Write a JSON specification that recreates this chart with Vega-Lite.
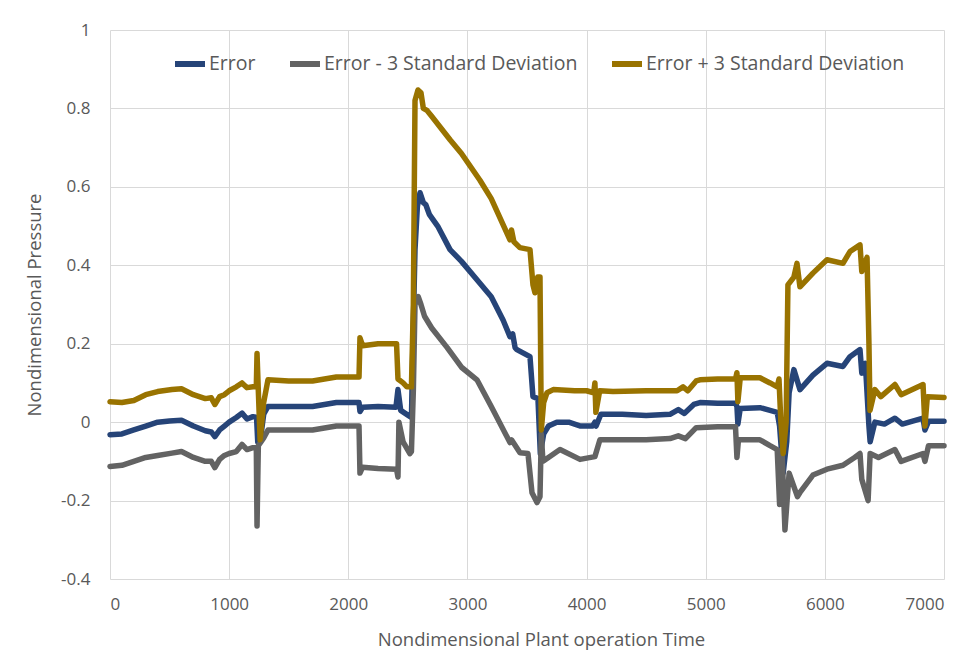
{
  "$schema": "https://vega.github.io/schema/vega-lite/v6.json",
  "width": 834,
  "height": 549,
  "autosize": {"type": "none"},
  "padding": {"left": 110, "top": 30, "right": 19, "bottom": 75},
  "background": "white",
  "config": {
    "font": "Open Sans",
    "view": {"stroke": null},
    "axis": {"labelFont": "Open Sans", "titleFont": "Open Sans", "labelColor": "#595959", "titleColor": "#595959", "labelFontSize": 17, "titleFontSize": 18.5, "titleFontWeight": "normal", "gridColor": "#d9d9d9", "gridWidth": 1, "domain": false, "ticks": false}
  },
  "datasets": {
    "err": [[0,-0.032],[100,-0.03],[200,-0.02],[300,-0.01],[400,0],[500,0.003],[600,0.005],[700,-0.01],[800,-0.022],[850,-0.025],[880,-0.037],[920,-0.02],[960,-0.01],[1000,0.0],[1060,0.012],[1108,0.023],[1150,0.008],[1200,0.014],[1230,0.012],[1240,-0.05],[1260,-0.05],[1290,0.02],[1326,0.04],[1500,0.04],[1700,0.04],[1800,0.045],[1900,0.05],[2090,0.05],[2098,0.027],[2120,0.038],[2250,0.04],[2400,0.038],[2417,0.083],[2440,0.03],[2500,0.018],[2530,0.012],[2546,0.25],[2560,0.44],[2580,0.55],[2602,0.585],[2630,0.56],[2650,0.555],[2680,0.53],[2750,0.5],[2854,0.44],[2950,0.41],[3080,0.363],[3200,0.32],[3300,0.26],[3357,0.218],[3380,0.225],[3400,0.19],[3415,0.185],[3525,0.167],[3550,0.065],[3592,0.06],[3612,-0.08],[3640,-0.03],[3680,-0.01],[3750,0.0],[3850,0.0],[3950,-0.01],[4050,-0.01],[4070,0.0],[4080,-0.01],[4120,0.02],[4300,0.02],[4500,0.017],[4700,0.02],[4770,0.032],[4820,0.022],[4900,0.045],[4952,0.05],[5100,0.048],[5250,0.048],[5262,0.04],[5270,-0.005],[5290,0.035],[5455,0.037],[5540,0.03],[5600,0.025],[5620,-0.01],[5650,-0.13],[5680,-0.05],[5700,0.075],[5740,0.134],[5791,0.083],[5900,0.12],[6018,0.15],[6152,0.142],[6211,0.167],[6295,0.185],[6310,0.125],[6340,0.15],[6370,-0.01],[6380,-0.05],[6420,0.0],[6500,-0.005],[6588,0.01],[6650,-0.005],[6824,0.01],[6840,-0.02],[6870,0.002],[7000,0.002]],
    "lo": [[0,-0.113],[100,-0.11],[200,-0.1],[300,-0.09],[400,-0.085],[520,-0.079],[600,-0.075],[700,-0.09],[800,-0.1],[850,-0.1],[880,-0.116],[920,-0.095],[960,-0.085],[1000,-0.08],[1060,-0.075],[1108,-0.057],[1150,-0.07],[1200,-0.065],[1228,-0.065],[1234,-0.265],[1245,-0.06],[1290,-0.04],[1326,-0.02],[1500,-0.02],[1700,-0.02],[1800,-0.015],[1900,-0.01],[2090,-0.01],[2098,-0.13],[2120,-0.115],[2250,-0.118],[2405,-0.12],[2417,-0.14],[2425,0.0],[2460,-0.05],[2517,-0.08],[2530,-0.075],[2546,0.08],[2560,0.3],[2587,0.32],[2610,0.3],[2640,0.27],[2700,0.24],[2830,0.19],[2950,0.14],[3080,0.108],[3200,0.04],[3357,-0.052],[3370,-0.045],[3441,-0.078],[3508,-0.08],[3542,-0.18],[3584,-0.205],[3609,-0.19],[3620,-0.03],[3634,-0.1],[3680,-0.09],[3777,-0.07],[3945,-0.095],[4070,-0.088],[4112,-0.045],[4300,-0.045],[4500,-0.045],[4700,-0.042],[4770,-0.035],[4830,-0.042],[4920,-0.014],[5100,-0.012],[5250,-0.012],[5262,-0.09],[5275,-0.045],[5455,-0.045],[5540,-0.06],[5600,-0.07],[5620,-0.21],[5640,-0.07],[5665,-0.275],[5700,-0.13],[5770,-0.19],[5790,-0.18],[5900,-0.135],[6018,-0.12],[6152,-0.11],[6250,-0.09],[6295,-0.08],[6310,-0.146],[6363,-0.2],[6380,-0.08],[6450,-0.09],[6588,-0.07],[6640,-0.1],[6824,-0.08],[6840,-0.1],[6870,-0.06],[7000,-0.06]],
    "hi": [[0,0.052],[100,0.05],[200,0.055],[300,0.07],[400,0.078],[520,0.083],[600,0.085],[700,0.07],[800,0.06],[850,0.062],[880,0.045],[920,0.065],[960,0.07],[1000,0.08],[1060,0.09],[1108,0.1],[1150,0.088],[1200,0.09],[1228,0.09],[1234,0.175],[1245,0.08],[1260,-0.045],[1290,0.05],[1326,0.108],[1500,0.105],[1700,0.105],[1800,0.11],[1900,0.115],[2090,0.115],[2098,0.215],[2120,0.195],[2250,0.2],[2405,0.2],[2417,0.11],[2460,0.1],[2492,0.09],[2530,0.09],[2546,0.3],[2560,0.82],[2585,0.847],[2610,0.84],[2630,0.8],[2660,0.795],[2700,0.78],[2854,0.72],[2950,0.685],[3105,0.617],[3200,0.57],[3357,0.465],[3370,0.49],[3390,0.46],[3440,0.445],[3525,0.44],[3550,0.35],[3567,0.33],[3590,0.37],[3609,0.37],[3620,-0.02],[3640,0.05],[3668,0.075],[3720,0.083],[3900,0.08],[4000,0.08],[4060,0.075],[4070,0.1],[4078,0.025],[4110,0.08],[4222,0.078],[4500,0.08],[4760,0.08],[4810,0.09],[4850,0.08],[4920,0.105],[4952,0.108],[5100,0.11],[5250,0.11],[5262,0.126],[5270,0.052],[5290,0.113],[5455,0.113],[5540,0.1],[5600,0.09],[5615,0.11],[5630,0.006],[5650,-0.08],[5675,0.0],[5690,0.35],[5740,0.37],[5766,0.405],[5791,0.345],[5900,0.38],[6018,0.414],[6152,0.405],[6211,0.435],[6295,0.452],[6310,0.384],[6354,0.42],[6370,0.2],[6379,0.03],[6420,0.083],[6470,0.065],[6588,0.096],[6640,0.07],[6824,0.096],[6840,-0.01],[6860,0.065],[7000,0.063]]
  },
  "layer": [
    {
      "data": {"name": "err"},
      "transform": [{"calculate": "datum[0]", "as": "t"}, {"calculate": "datum[1]", "as": "v"}, {"calculate": "'Error'", "as": "s"}],
      "mark": {"type": "line", "strokeWidth": 5.5, "strokeJoin": "round", "strokeCap": "round"},
      "encoding": {
        "x": {"field": "t", "type": "quantitative", "scale": {"domain": [0, 7000], "nice": false}, "axis": {"values": [0,1000,2000,3000,4000,5000,6000,7000], "format": "d", "labelPadding": 17, "title": "Nondimensional Plant operation Time", "titlePadding": 18, "titleX": 431}},
        "y": {"field": "v", "type": "quantitative", "scale": {"domain": [-0.4, 1], "nice": false}, "axis": {"values": [-0.4,-0.2,0,0.2,0.4,0.6,0.8,1], "labelExpr": "replace(format(datum.value, '.1~f'), '−', '-')", "labelPadding": 20, "title": "Nondimensional Pressure", "titlePadding": 16}},
        "color": {"field": "s", "type": "nominal", "scale": {"domain": ["Error", "Error - 3 Standard Deviation", "Error + 3 Standard Deviation"], "range": ["#264478", "#636363", "#997300"]},
          "legend": {"orient": "none", "legendX": 62, "legendY": 16, "direction": "horizontal", "title": null, "symbolType": "stroke", "symbolStrokeWidth": 6, "symbolSize": 900, "labelFontSize": 19.5, "labelLimit": 0, "labelColor": "#595959", "labelFont": "Open Sans", "columnPadding": 22, "labelOffset": 1}}
      }
    },
    {
      "data": {"name": "lo"},
      "transform": [{"calculate": "datum[0]", "as": "t"}, {"calculate": "datum[1]", "as": "v"}, {"calculate": "'Error - 3 Standard Deviation'", "as": "s"}],
      "mark": {"type": "line", "strokeWidth": 5.5, "strokeJoin": "round", "strokeCap": "round"},
      "encoding": {
        "x": {"field": "t", "type": "quantitative"},
        "y": {"field": "v", "type": "quantitative"},
        "color": {"field": "s", "type": "nominal"}
      }
    },
    {
      "data": {"name": "hi"},
      "transform": [{"calculate": "datum[0]", "as": "t"}, {"calculate": "datum[1]", "as": "v"}, {"calculate": "'Error + 3 Standard Deviation'", "as": "s"}],
      "mark": {"type": "line", "strokeWidth": 5.5, "strokeJoin": "round", "strokeCap": "round"},
      "encoding": {
        "x": {"field": "t", "type": "quantitative"},
        "y": {"field": "v", "type": "quantitative"},
        "color": {"field": "s", "type": "nominal"}
      }
    }
  ]
}
